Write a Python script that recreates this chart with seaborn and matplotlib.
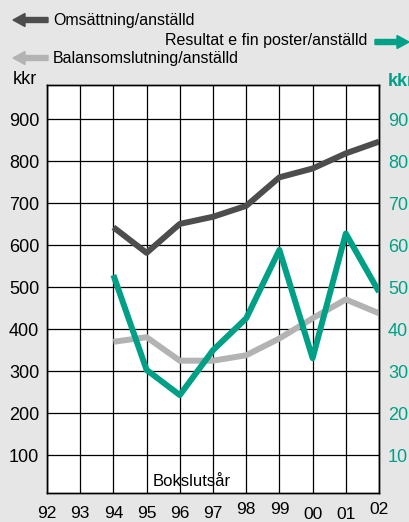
import matplotlib
matplotlib.use("Agg")
import matplotlib.pyplot as plt
from matplotlib.patches import FancyArrow
import seaborn as sns
import pandas as pd

years = [92, 93, 94, 95, 96, 97, 98, 99, 100, 101, 102]
year_labels = ["92", "93", "94", "95", "96", "97", "98", "99", "00", "01", "02"]
data_years = [94, 95, 96, 97, 98, 99, 100, 101, 102]
omsattning = [643, 582, 651, 668, 694, 762, 783, 819, 847]
balans = [370, 381, 325, 325, 338, 378, 426, 471, 438]
resultat = [52.9, 30.3, 24.3, 35.0, 42.6, 58.9, 33.1, 62.8, 48.9]
left_ticks = [100, 200, 300, 400, 500, 600, 700, 800, 900]
right_ticks = [10, 20, 30, 40, 50, 60, 70, 80, 90]

DARK = "#4d4d4d"
GRAY = "#b3b3b3"
GREEN = "#00a087"
BG = "#e6e6e6"

sns.set_style("white")
plt.rcParams["font.family"] = ["Liberation Sans", "DejaVu Sans"]

df = pd.DataFrame({"year": data_years, "oms": omsattning, "bal": balans, "res": resultat})

fig = plt.figure(figsize=(4.09, 5.22), dpi=100, facecolor=BG)
ax = fig.add_axes([47/409, 1-493.3/522, 332/409, (493.3-85)/522])
ax.set_facecolor("white")
ax2 = ax.twinx()

sns.lineplot(data=df, x="year", y="bal", ax=ax, color=GRAY, linewidth=4.3, solid_capstyle="butt", zorder=3)
sns.lineplot(data=df, x="year", y="oms", ax=ax, color=DARK, linewidth=4.3, solid_capstyle="butt", zorder=3)
sns.lineplot(data=df, x="year", y="res", ax=ax2, color=GREEN, linewidth=4.3, solid_capstyle="butt", zorder=3)

ax.set_xlim(92, 102)
ax.set_ylim(9, 982)
ax2.set_ylim(0.9, 98.2)

ax.set_xticks(years)
ax.set_xticklabels(year_labels)
ax.set_yticks(left_ticks)
ax.set_yticklabels([str(v) for v in left_ticks])
ax2.set_yticks(right_ticks)
ax2.set_yticklabels([str(v) for v in right_ticks])

ax.grid(True, color="black", linewidth=0.9)
ax.set_axisbelow(True)
for a in (ax, ax2):
    a.set_xlabel("")
    a.set_ylabel("")
    for s in a.spines.values():
        s.set_color("black")
        s.set_linewidth(1.0)
ax.tick_params(axis="y", length=0, labelsize=13, colors="black", pad=5.5)
ax.tick_params(axis="x", length=0, labelsize=12.5, colors="black", pad=9)
ax2.tick_params(axis="y", length=0, labelsize=13, labelcolor=GREEN, pad=6.5)

# slight individual offsets of year labels as in the source
offsets = {"98": 6, "99": 6, "02": 6, "00": 10, "01": 10}
for tick, lab in zip(ax.xaxis.get_major_ticks(), year_labels):
    if lab in offsets:
        tick.set_pad(offsets[lab])

ax.text((192-47)/332, (493.3-482)/(493.3-85), "Bokslutsår", transform=ax.transAxes,
        ha="center", va="center", fontsize=12, color="black", zorder=5)

fig.text(13/409, 1-80/522, "kkr", ha="left", va="center", fontsize=13, color="black")
fig.text(388/409, 1-81/522, "kkr", ha="left", va="center", fontsize=13, color=GREEN, fontweight="bold")

# legend
def arrow(x0, x1, y, color):
    fy = 1 - y/522
    fig.patches.append(FancyArrow(x0/409, fy, (x1-x0)/409, 0, width=5/522, head_width=13/522,
                                  head_length=12/409, length_includes_head=True,
                                  color=color, transform=fig.transFigure, figure=fig))

arrow(48, 13, 20, DARK)
arrow(48, 13, 58, GRAY)
arrow(375, 409, 42, GREEN)
fig.text(53/409, 1-20/522, "Omsättning/anställd", ha="left", va="center", fontsize=11.5, color="black")
fig.text(367/409, 1-41/522, "Resultat e fin poster/anställd", ha="right", va="center", fontsize=11.5, color="black")
fig.text(53/409, 1-59/522, "Balansomslutning/anställd", ha="left", va="center", fontsize=11.5, color="black")

fig.savefig("out.png", dpi=100, facecolor=BG)
